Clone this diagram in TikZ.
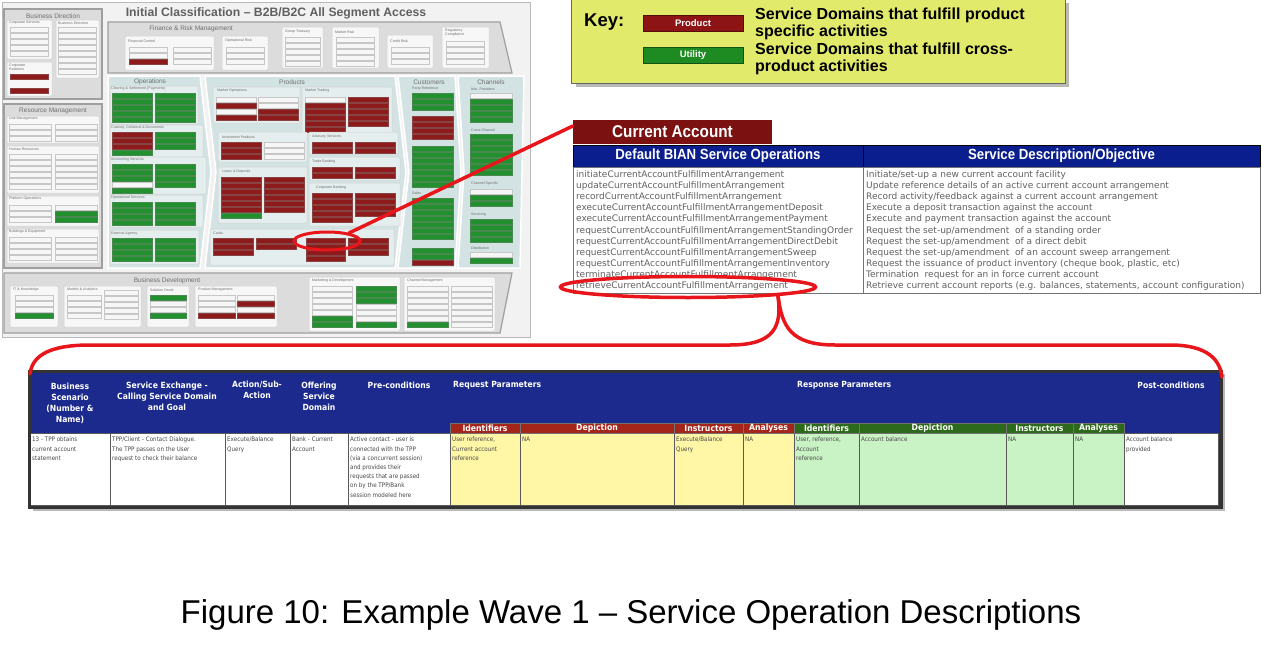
\documentclass[tikz,border=0pt]{standalone}
\usepackage{fontspec}
\setmainfont{Liberation Sans}
\newfontfamily\narrowfont[FakeStretch=0.9]{Liberation Sans}
\newfontfamily\tabfont[FakeStretch=0.9]{DejaVu Sans}
\newfontfamily\opsfont{DejaVu Sans}
\usetikzlibrary{positioning,shapes.geometric}

\definecolor{prodred}{HTML}{8C1414}
\definecolor{utilgreen}{HTML}{1E8A22}
\definecolor{keyyellow}{HTML}{E2EA6C}
\definecolor{catabred}{HTML}{7B1111}
\definecolor{bianblue}{HTML}{0A1E8E}
\definecolor{tabblue}{HTML}{1B2A8C}
\definecolor{reqred}{HTML}{A4261A}
\definecolor{respgreen}{HTML}{2E6A1C}
\definecolor{reqyellow}{HTML}{FFF6A6}
\definecolor{respgreenl}{HTML}{C9F3C4}
\definecolor{mapgray}{HTML}{DCDCDC}
\definecolor{mapteal}{HTML}{D3E2E2}
\definecolor{maptext}{HTML}{6E6E6E}
\definecolor{sdw}{HTML}{F6F6F6}
\definecolor{sdr}{HTML}{8E1B1B}
\definecolor{sdg}{HTML}{23902F}
\definecolor{hired}{HTML}{E8161B}

% stack of service domain bars: [width]{x}{y}{colour letters}
\newcommand\sdstack[4][38]{%
  \foreach \sdcol [count=\sdi from 0] in {#4}
    {\filldraw[sdbar=\sdcol] (#2,{#3+\sdi*6}) rectangle ++(#1,5);}}

\begin{document}
\begin{tikzpicture}[x=1pt, y=-1pt,
    panel/.style={fill=mapgray, draw=gray!75, line width=1.2},
    zone/.style={fill=mapteal, draw=white, line width=1.5},
    subpanel/.style={fill=#1, draw=gray!35, line width=0.5, rounded corners=1},
    sdbar/.style={fill=sd#1, draw=sd#1!60!gray, line width=0.3},
    maphead/.style={font=\fontsize{6.5}{7}\selectfont, text=maptext, inner sep=0},
    maplbl/.style={font=\fontsize{3.6}{4}\selectfont, text=maptext, inner sep=0, anchor=west, align=left},
    redlink/.style={draw=hired, line width=3.5, line cap=round},
    redring/.style={ellipse, draw=hired, line width=#1, inner sep=0},
    chip/.style={rectangle, fill=#1, draw=#1!60!black, minimum width=100, minimum height=16, text=white, font=\bfseries\fontsize{9.5}{10}\selectfont},
    keytext/.style={anchor=west, align=left, inner sep=0, font=\bfseries\fontsize{16}{17.5}\selectfont},
    bianhead/.style={rectangle, fill=bianblue, draw=black, line width=0.8, minimum height=22, text=white, font=\narrowfont\bfseries\fontsize{14.7}{15}\selectfont},
    bodycell/.style={rectangle, fill=white, draw=black!55, line width=0.8},
    opstext/.style={anchor=north west, align=left, inner sep=0, text=black!62, font=\opsfont\fontsize{9}{11.1}\selectfont},
    thead/.style={align=center, inner sep=0, text=white, font=\tabfont\bfseries\fontsize{8.5}{11}\selectfont},
    subhead/.style={fill=#1, draw=black!55, line width=0.6},
    subtext/.style={inner sep=0, text=white, font=\tabfont\bfseries\fontsize{8.6}{9}\selectfont},
    cellfill/.style={fill=#1, draw=black!65, line width=0.8},
    celltext/.style={anchor=north west, align=left, inner sep=0, text=black!72, font=\tabfont\fontsize{6.2}{9.2}\selectfont}
]
    \useasboundingbox (0,0) rectangle (1262,645);

    % Carte de classification (vignette)
    \filldraw[fill=gray!10, draw=gray!55, line width=1] (2,2) rectangle (530,337);
    \node[font=\bfseries\fontsize{12.2}{13}\selectfont, text=gray!75!black] (maptitle) at (276,13) {Initial Classification – B2B/B2C All Segment Access};

    % Business Direction
    \filldraw[panel] (4,9) rectangle (102,99);
    \node[maphead] (hbd) at (53,16) {Business Direction};
    \filldraw[subpanel=gray!6] (7,20) rectangle (52,59);
    \node[maplbl] (lcs) at (9,23) {Corporate Services};
    \sdstack{10}{27}{w,w,w,w,w}
    \filldraw[subpanel=gray!6] (56,20) rectangle (99,78);
    \node[maplbl] (lbd) at (58,23) {Business Direction};
    \sdstack{58}{27}{w,w,w,w,w,w,w,w}
    \filldraw[subpanel=gray!6] (7,62) rectangle (52,96);
    \node[maplbl] (lcr) at (9,67) {Corporate\\Relations};
    \sdstack{10}{74}{r}
    \sdstack{10}{88}{r}

    % Resource Management
    \filldraw[panel] (4,104) rectangle (102,268);
    \node[maphead] (hrm) at (53,111) {Resource Management};
    \filldraw[subpanel=gray!6] (7,116) rectangle (99,143);
    \node[maplbl] (lum) at (9,119) {Unit Management};
    \sdstack[42]{9}{124}{w,w,w} \sdstack[42]{55}{124}{w,w,w}
    \filldraw[subpanel=gray!6] (7,146) rectangle (99,193);
    \node[maplbl] (lhr) at (9,149) {Human Resources};
    \sdstack[42]{9}{154}{w,w,w,w,w,w} \sdstack[42]{55}{154}{w,w,w,w,w,w}
    \filldraw[subpanel=gray!6] (7,196) rectangle (99,226);
    \node[maplbl] (lpo) at (9,199) {Platform Operations};
    \sdstack[42]{9}{205}{w,w,w} \sdstack[42]{55}{205}{w,g,g}
    \filldraw[subpanel=gray!6] (7,229) rectangle (99,263);
    \node[maplbl] (lbe) at (9,232) {Buildings \& Equipment};
    \sdstack[42]{9}{237}{w,w,w,w} \sdstack[42]{55}{237}{w,w,w,w}

    % Finance & Risk Management
    \filldraw[panel] (108,22) -- (500,22) -- (512,73) -- (108,73) -- cycle;
    \node[maphead] (hfr) at (191,29) {Finance \& Risk Management};
    \filldraw[subpanel=gray!6] (125,36) rectangle (214,70);
    \node[maplbl] (lfc) at (128,41) {Financial Control};
    \sdstack{129}{47}{w,w,r} \sdstack{173}{47}{w,w,w}
    \filldraw[subpanel=gray!6] (222,36) rectangle (268,70);
    \node[maplbl] (lor) at (225,41) {Operational Risk};
    \sdstack{226}{47}{w,w,w}
    \filldraw[subpanel=gray!6] (282,27) rectangle (323,68);
    \node[maplbl] (lgt) at (285,32) {Group Treasury};
    \sdstack[35]{285}{37}{w,w,w,w,w}
    \filldraw[subpanel=gray!6] (332,27) rectangle (379,68);
    \node[maplbl] (lmr) at (335,32) {Market Risk};
    \sdstack{336}{37}{w,w,w,w,w}
    \filldraw[subpanel=gray!6] (387,35) rectangle (433,68);
    \node[maplbl] (lcrk) at (390,41) {Credit Risk};
    \sdstack{391}{47}{w,w,w}
    \filldraw[subpanel=gray!6] (442,27) rectangle (489,68);
    \node[maplbl] (lrc) at (445,33) {Regulatory\\Compliance};
    \sdstack{446}{41}{w,w,w,w}

    % Operations
    \filldraw[zone] (108,76) -- (200,76) -- (211,172) -- (200,268) -- (108,268) -- cycle;
    \node[maphead] (hops) at (150,82) {Operations};
    \filldraw[subpanel=white!40!mapteal] (110,86) rectangle (198,124);
    \node[maplbl] (lcsp) at (111,89) {Clearing \& Settlement (Payments)};
    \sdstack[40]{112}{93}{g,g,g,g,g} \sdstack[40]{155}{93}{g,g,g,g,g}
    \filldraw[subpanel=white!40!mapteal] (110,125) rectangle (203,157);
    \node[maplbl] (lccd) at (111,128) {Custody, Collateral \& Documents};
    \sdstack[40]{112}{132}{r,r,r,g} \sdstack[40]{155}{132}{g,g,g}
    \filldraw[subpanel=white!40!mapteal] (110,157) rectangle (206,194);
    \node[maplbl] (las) at (111,160) {Accounting Services};
    \sdstack[40]{112}{164}{g,g,g,w,g} \sdstack[40]{155}{164}{g,g,g,g}
    \filldraw[subpanel=white!40!mapteal] (110,195) rectangle (203,227);
    \node[maplbl] (losv) at (111,198) {Operational Services};
    \sdstack[40]{112}{202}{g,g,g,g} \sdstack[40]{155}{202}{g,g,g,g}
    \filldraw[subpanel=white!40!mapteal] (110,230) rectangle (199,264);
    \node[maplbl] (lea) at (111,234) {External Agency};
    \sdstack[40]{112}{238}{g,g,g,g} \sdstack[40]{155}{238}{g,g,g,g}

    % Products
    \filldraw[zone] (205,76) -- (395,76) -- (406,172) -- (395,268) -- (205,268) -- (216,172) -- cycle;
    \node[maphead] (hprod) at (292,82) {Products};
    \filldraw[subpanel=white!40!mapteal] (213,87) rectangle (300,123);
    \node[maplbl] (lmo) at (217,91) {Market Operations};
    \sdstack[40]{216}{97}{w,r,w,r} \sdstack[40]{258}{97}{w,w,r,r}
    \filldraw[subpanel=white!40!mapteal] (302,87) rectangle (392,134);
    \node[maplbl] (lmt) at (305,91) {Market Trading};
    \sdstack[40]{305}{97}{w,r,r,r,r,r} \sdstack[40]{348}{97}{r,r,r,r,r}
    \filldraw[subpanel=white!40!mapteal] (218,132) rectangle (307,162);
    \node[maplbl] (lip) at (222,137) {Investment Products};
    \sdstack[40]{221}{142}{r,r,r} \sdstack[40]{264}{142}{w,w,w}
    \filldraw[subpanel=white!40!mapteal] (309,132) rectangle (398,154);
    \node[maplbl] (lav) at (312,137) {Advisory Services};
    \sdstack[40]{312}{142}{r,r} \sdstack[40]{355}{142}{r,r}
    \filldraw[subpanel=white!40!mapteal] (218,167) rectangle (307,223);
    \node[maplbl] (lld) at (222,172) {Loans \& Deposits};
    \sdstack[40]{221}{177}{r,r,r,r,r,r,g} \sdstack[40]{264}{177}{r,r,r,r,r,r}
    \filldraw[subpanel=white!40!mapteal] (309,157) rectangle (400,180);
    \node[maplbl] (ltb) at (312,162) {Trade Banking};
    \sdstack[40]{312}{167}{r,r} \sdstack[40]{355}{167}{r,r}
    \filldraw[subpanel=white!40!mapteal] (309,183) rectangle (400,226);
    \node[maplbl] (lcb) at (316,188) {Corporate Banking};
    \sdstack[40]{312}{193}{r,r,r,r,r} \sdstack[40]{355}{193}{r,r,r,r}
    \filldraw[subpanel=white!40!mapteal] (210,229) rectangle (394,265);
    \node[maplbl] (lcards) at (213,233) {Cards};
    \sdstack[40]{213}{238}{r,r,r} \sdstack[40]{256}{238}{r,r}
    \sdstack[39]{306}{238}{r,r,r,r} \sdstack[40]{348}{238}{r,r,r}

    % Customers
    \filldraw[zone] (398,76) -- (455,76) -- (461,172) -- (455,268) -- (398,268) -- (409,172) -- cycle;
    \node[maphead] (hcust) at (429,82) {Customers};
    \node[maplbl] (lpr) at (412,89) {Party Reference};
    \sdstack[41]{412}{93}{g,g,g}
    \sdstack[41]{412}{116}{r,r,r,r}
    \sdstack[41]{412}{146}{g,g,g,g,g,g,g}
    \node[maplbl] (lsales) at (412,193) {Sales};
    \sdstack[41]{412}{198}{g,g,g,g,g,g,g}
    \sdstack[41]{412}{248}{g,g,r}

    % Channels
    \filldraw[zone] (458,76) -- (524,76) -- (520,268) -- (458,268) -- (464,172) -- cycle;
    \node[maphead] (hchan) at (491,82) {Channels};
    \node[maplbl] (linfo) at (471,89) {Info. Providers};
    \sdstack[42]{470}{93}{w,g,g,g,g}
    \node[maplbl] (lcc) at (471,130) {Cross Channel};
    \sdstack[42]{470}{134}{g,g,g,g,g,g,g}
    \node[maplbl] (lchs) at (471,184) {Channel Specific};
    \sdstack[42]{470}{189}{w,g,g}
    \node[maplbl] (lsrv) at (471,215) {Servicing};
    \sdstack[42]{470}{219}{g,g,g,g}
    \node[maplbl] (ldist) at (471,248) {Distribution};
    \sdstack[42]{470}{252}{w,g}

    % Business Development
    \filldraw[panel] (4,273) -- (512,273) -- (500,333) -- (4,333) -- cycle;
    \node[maphead] (hbdev) at (167,281) {Business Development};
    \filldraw[subpanel=gray!6] (10,286) rectangle (58,327);
    \node[maplbl] (litk) at (13,290) {IT \& Knowledge};
    \sdstack{15}{295}{w,w,w,g}
    \filldraw[subpanel=gray!6] (64,286) rectangle (141,327);
    \node[maplbl] (lma) at (67,290) {Models \& Analytics};
    \sdstack[34]{67}{295}{w,w,w,w} \sdstack[34]{104}{290}{w,w,w,w,w}
    \filldraw[subpanel=gray!6] (147,286) rectangle (189,327);
    \node[maplbl] (lsd) at (150,290) {Solution Devel.};
    \sdstack[36]{150}{295}{g,w,w,g}
    \filldraw[subpanel=gray!6] (195,286) rectangle (277,327);
    \node[maplbl] (lpm) at (198,290) {Product Management};
    \sdstack[37]{198}{295}{w,w,w,r} \sdstack[37]{237}{295}{w,r,w,r}
    \filldraw[subpanel=gray!6] (309,277) rectangle (400,331);
    \node[maplbl] (lmd) at (312,281) {Marketing \& Development};
    \sdstack[40]{312}{286}{w,w,w,w,w,g,g} \sdstack[40]{356}{286}{g,g,g,w,w,w,g}
    \filldraw[subpanel=gray!6] (404,277) rectangle (495,331);
    \node[maplbl] (lchm) at (407,281) {Channel Management};
    \sdstack[41]{407}{286}{w,w,w,w,w,w,g} \sdstack[41]{451}{286}{w,w,w,w,w,w,w}

    % Legende
    \fill[gray!55] (576,3) rectangle (1069,87);
    \filldraw[fill=keyyellow, draw=black!60, line width=1] (571,-1) rectangle (1065,83);
    \node[font=\bfseries\fontsize{18.5}{19}\selectfont, anchor=west, inner sep=0] (keylbl) at (584,22) {Key:};
    \node[chip=prodred] (prodchip) at (693,23) {Product};
    \node[chip=utilgreen] (utilchip) at (693,55) {Utility};
    \node[keytext] (prodnote) at (755,24) {Service Domains that fulfill product\\specific activities};
    \node[keytext] (utilnote) at (755,59) {Service Domains that fulfill cross-\\product activities};

    % Current Account
    \node[fill=catabred, minimum width=199, minimum height=24, text=white, font=\narrowfont\bfseries\fontsize{17}{17}\selectfont] (catab) at (672.5,132) {Current Account};
    \node[bianhead, minimum width=290] (opshead) at (718,156) {Default BIAN Service Operations};
    \node[bianhead, minimum width=397] (deschead) at (1061.5,156) {Service Description/Objective};
    \node[bodycell, minimum width=290, minimum height=126] (opsbody) at (718,230) {};
    \node[bodycell, minimum width=397, minimum height=126] (descbody) at (1061.5,230) {};
    \node[opstext] (opslist) at (576,170.5) {initiateCurrentAccountFulfillmentArrangement\\
      updateCurrentAccountFulfillmentArrangement\\
      recordCurrentAccountFulfillmentArrangement\\
      executeCurrentAccountFulfillmentArrangementDeposit\\
      executeCurrentAccountFulfillmentArrangementPayment\\
      requestCurrentAccountFulfillmentArrangementStandingOrder\\
      requestCurrentAccountFulfillmentArrangementDirectDebit\\
      requestCurrentAccountFulfillmentArrangementSweep\\
      requestCurrentAccountFulfillmentArrangementInventory\\
      terminateCurrentAccountFulfillmentArrangement\\
      retrieveCurrentAccountFulfillmentArrangement};
    \node[opstext] (desclist) at (866,170.5) {Initiate/set-up a new current account facility\\
      Update reference details of an active current account arrangement\\
      Record activity/feedback against a current account arrangement\\
      Execute a deposit transaction against the account\\
      Execute and payment transaction against the account\\
      Request the set-up/amendment\ \ of a standing order\\
      Request the set-up/amendment\ \ of a direct debit\\
      Request the set-up/amendment\ \ of an account sweep arrangement\\
      Request the issuance of product inventory (cheque book, plastic, etc)\\
      Termination\ \ request for an in force current account\\
      Retrieve current account reports (e.g. balances, statements, account configuration)};

    % Tableau du scenario
    \fill[gray!55] (33,374) rectangle (1225,511);
    \fill[tabblue] (29,371) rectangle (1221,507);
    \foreach \xa/\xb/\cl [count=\k] in {30/110/white, 110/225/white, 225/290/white, 290/348/white, 348/450/white,
        450/520/reqyellow, 520/674/reqyellow, 674/743/reqyellow, 743/794/reqyellow,
        794/859/respgreenl, 859/1006/respgreenl, 1006/1073/respgreenl, 1073/1124/respgreenl, 1124/1218/white}
      {\filldraw[cellfill=\cl] (\xa,433) rectangle (\xb,505);}
    \foreach \xa/\xb/\hd [count=\k] in {450/520/Identifiers, 520/674/Depiction, 674/743/Instructors, 743/794/Analyses}
      {\filldraw[subhead=reqred] (\xa,423) rectangle (\xb,433);
       \node[subtext] (reqhd\k) at ({(\xa+\xb)/2},428.5) {\hd};}
    \foreach \xa/\xb/\hd [count=\k] in {794/859/Identifiers, 859/1006/Depiction, 1006/1073/Instructors, 1073/1124/Analyses}
      {\filldraw[subhead=respgreen] (\xa,423) rectangle (\xb,433);
       \node[subtext] (resphd\k) at ({(\xa+\xb)/2},428.5) {\hd};}
    \draw[draw=black!80, line width=3] (29,371) rectangle (1221,507);

    \node[thead] (hscen) at (70,403) {Business\\Scenario\\(Number \&\\Name)};
    \node[thead] (hexch) at (167,396) {Service Exchange -\\Calling Service Domain\\and Goal};
    \node[thead] (hact) at (257,390) {Action/Sub-\\Action};
    \node[thead] (hoff) at (319,396) {Offering\\Service\\Domain};
    \node[thead] (hpre) at (399,385) {Pre-conditions};
    \node[thead, anchor=west] (hreq) at (453,385) {Request Parameters};
    \node[thead, anchor=west] (hresp) at (797,385) {Response Parameters};
    \node[thead] (hpost) at (1171,385) {Post-conditions};

    \node[celltext] (cscen) at (32,437) {13 - TPP obtains\\current account\\statement};
    \node[celltext] (cexch) at (112,437) {TPP/Client - Contact Dialogue.\\The TPP passes on the User\\request to check their balance};
    \node[celltext] (cact) at (227,437) {Execute/Balance\\Query};
    \node[celltext] (coff) at (292,437) {Bank - Current\\Account};
    \node[celltext] (cpre) at (350,437) {Active contact - user is\\connected with the TPP\\(via a concurrent session)\\and provides their\\requests that are passed\\on by the TPP/Bank\\session modeled here};
    \node[celltext] (creqid) at (452,437) {User reference,\\Current account\\reference};
    \node[celltext] (creqdep) at (522,437) {NA};
    \node[celltext] (creqins) at (676,437) {Execute/Balance\\Query};
    \node[celltext] (creqan) at (745,437) {NA};
    \node[celltext] (crespid) at (796,437) {User, reference,\\Account\\reference};
    \node[celltext] (crespdep) at (861,437) {Account balance};
    \node[celltext] (crespins) at (1008,437) {NA};
    \node[celltext] (crespan) at (1075,437) {NA};
    \node[celltext] (cpost) at (1126,437) {Account balance\\provided};

    % Mises en evidence
    \node[redring=3, minimum width=66, minimum height=18] (mapring) at (327,241) {};
    \node[redring=3.5, minimum width=255, minimum height=21] (opsring) at (688,287) {};
    \draw[redlink] (mapring.20) -- ([yshift=6pt]catab.west);
    \coordinate (braceroot) at (778,296);
    \coordinate (braceleft) at (30,374);
    \coordinate (braceright) at (1222,377);
    \draw[redlink] (braceroot) .. controls (782,326) and (775,345) .. (730,345) -- (90,345) .. controls (45,345) and (32,358) .. (braceleft);
    \draw[redlink] (braceroot) .. controls (782,326) and (790,345) .. (835,345) -- (1170,345) .. controls (1208,345) and (1220,360) .. (braceright);

    % Legende de la figure
    \node[font=\fontsize{33}{36}\selectfont] (caption) at (631,615) {Figure 10: Example Wave 1 – Service Operation Descriptions};
\end{tikzpicture}
\end{document}
